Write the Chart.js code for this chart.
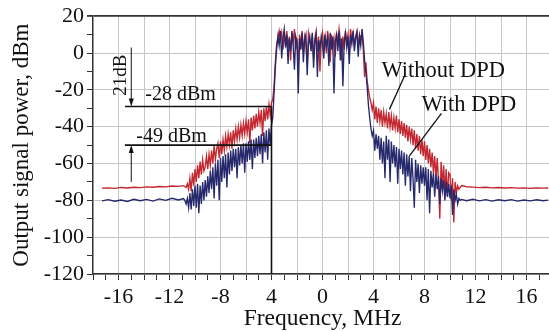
<!DOCTYPE html>
<html>
<head>
<meta charset="utf-8">
<script src="https://cdn.jsdelivr.net/npm/chart.js@4.4.0/dist/chart.umd.min.js"></script>
<style>
  html, body { margin: 0; padding: 0; background: #fff; overflow: hidden; }
  #wrap { width: 549px; height: 332px; overflow: hidden; }
  #probe { position: absolute; left: -999px; top: 0; font-family: 'Liberation Serif'; font-size: 20px; }
</style>
</head>
<body>
<span id="probe">Frequency 0123456789</span>
<div id="wrap"><canvas id="myChart" width="556" height="332"></canvas></div>
<script>
  /* DATA */

  const seriesNames = ['Without DPD', 'With DPD'];

  // flat noise floor, left and right of the spectrum (MHz)
  const flatLeftFreq = [-17.3, -16.8, -16.3, -15.8, -15.3, -14.8, -14.3, -13.8, -13.3, -12.8, -12.3, -11.8, -11.3, -10.9];
  const flatRightFreq = [10.9, 11.3, 11.8, 12.3, 12.8, 13.3, 13.8, 14.3, 14.8, 15.3, 15.8, 16.3, 16.8, 17.3, 17.7];

  // noisy part is sampled every 0.1 MHz from -10.8 to 10.8
  const noisyStart = -10.8;
  const noisyStep = 0.1;

  const redFlatLeft = [-73.4, -73.2, -73.5, -73.0, -73.3, -72.9, -73.1, -72.7, -72.9, -72.5, -72.7, -72.2, -72.4, -72.0];
  const redNoisy = [
    -72.5, -73, -71, -74,
    -68, -75, -65, -72, -63,
    -70, -61, -68, -59, -66, -58, -64, -62, -56, -63,
    -55, -61, -53, -60, -50, -58, -52, -49, -57, -48,
    -55, -47, -53, -45, -51, -44, -50, -43, -52, -42,
    -48, -41, -47, -40, -46, -39, -45, -38, -44, -37,
    -43, -36, -49, -35, -42, -34, -41, -33, -40, -32,
    -38, -31, -45, -30, -37, -29, -36, -28, -34, -27,
    -25, -18, -5, 5, 8, 12, 7, 11, 2, 10,
    5, 12, 3, 9, -4, 11, 6, 13, 2, 8,
    -8, 10, 4, 12, 0, 9, 5, -6, 11, 7,
    3, 10, -3, 8, 12, 1, 9, -10, 6, 11,
    4, 9, 0, 12, 6, -5, 10, 3, 8, -2,
    11, 5, 13, 7, -4, 9, 2, 12, 6, 10,
    -1, 13, 7, 11, 4, 9, 12, 3, 10,
    8, 11, 2, -13, -5, -15, -20, -24, -27, -31,
    -27, -36, -29, -38, -30, -37, -31, -40, -32, -38,
    -33, -41, -32, -40, -34, -42, -35, -41, -34, -43,
    -36, -44, -37, -45, -38, -46, -39, -48, -40, -47,
    -41, -50, -42, -52, -44, -53, -45, -55, -47, -56,
    -48, -58, -50, -60, -52, -62, -54, -65, -56, -68,
    -57, -70, -90, -59, -72, -61, -75, -63, -78, -65,
    -66, -80, -68, -92, -70, -76, -72, -74, -73
  ];
  const redFlatRight = [-72.0, -72.6, -72.8, -73.1, -72.9, -73.2, -73.0, -73.3, -73.1, -73.4, -73.2, -73.5, -73.3, -73.4, -73.3];

  const blueFlatLeft = [-80.3, -79.6, -80.5, -79.8, -80.6, -79.4, -80.2, -79.5, -80.4, -79.2, -80.0, -78.9, -79.8, -79.0];
  const blueNoisy = [
    -80, -82, -79, -84,
    -76, -85, -74, -83, -72,
    -84, -71, -87, -72, -82, -70, -80, -69, -78, -67,
    -76, -64, -74, -62, -79, -60, -72, -58, -80, -57,
    -70, -56, -68, -55, -73, -54, -66, -53, -64, -52,
    -62, -52, -68, -51, -61, -50, -60, -49, -65, -49,
    -59, -48, -58, -47, -63, -47, -57, -46, -56, -45,
    -55, -44, -60, -43, -54, -42, -58, -41, -50, -39,
    -35, -22, -8, 2, 9, 4, 12, -3, 8, 13,
    3, 10, -6, 8, 1, 12, 4, -9, 9, 6,
    -22, 8, 2, 11, -5, 7, 10, -12, 5, 9,
    1, 11, -8, 6, 10, -13, 7, 2, 9, 5,
    -3, 10, 4, 8, -7, 11, 2, 9, -22, 6,
    10, 1, 12, -4, 8, -18, 6, 11, 3, 9,
    -6, 10, 5, 12, 1, 8, 11, -2, 9,
    4, 13, 6, -4, -10, -18, -28, -35, -41, -45,
    -42, -53, -44, -52, -45, -58, -46, -60, -48, -68,
    -45, -58, -47, -70, -48, -60, -50, -62, -51, -71,
    -52, -63, -53, -66, -54, -72, -55, -67, -56, -75,
    -57, -68, -84, -58, -70, -60, -76, -61, -71, -62,
    -72, -62, -80, -63, -87, -64, -73, -65, -78, -66,
    -74, -67, -82, -68, -75, -69, -80, -70, -78, -71,
    -79, -72, -88, -74, -80, -77, -82, -79, -80
  ];
  const blueFlatRight = [-79.5, -80.2, -79.4, -80.3, -79.6, -80.4, -79.7, -80.2, -79.6, -80.4, -79.8, -80.3, -79.7, -80.2, -79.9];

  // tick labels (the -4 MHz tick reads "4" in the original)
  const xTickValues = [-16, -12, -8, -4, 0, 4, 8, 12, 16];
  const xTickLabels = ['-16', '-12', '-8', '4', '0', '4', '8', '12', '16'];
  const yTickValues = [20, 0, -20, -40, -60, -80, -100, -120];
  const yTickLabels = ['20', '0', '-20', '-40', '-60', '-80', '-100', '-120'];

  // ACPR marker lines
  const refLevels = [-29, -50];
  const refLabels = ['-28 dBm', '-49 dBm'];
  const edgeFreq = -4;

  const SERIF = "'Liberation Serif', 'DejaVu Serif', serif";
  const INK = '#111';

  /* HELPERS */

  function buildPoints(leftVals, noisyVals, rightVals) {
    const pts = [];
    leftVals.forEach((v, i) => pts.push({ x: flatLeftFreq[i], y: v }));
    noisyVals.forEach((v, i) => pts.push({ x: +(noisyStart + i * noisyStep).toFixed(2), y: v }));
    rightVals.forEach((v, i) => pts.push({ x: flatRightFreq[i], y: v }));
    return pts;
  }

  function line(ctx, x1, y1, x2, y2) {
    ctx.beginPath();
    ctx.moveTo(x1, y1);
    ctx.lineTo(x2, y2);
    ctx.stroke();
  }

  function arrowHead(ctx, x, y, dir) {
    // dir = 1 points down, -1 points up
    ctx.beginPath();
    ctx.moveTo(x, y);
    ctx.lineTo(x - 2.5, y - dir * 8);
    ctx.lineTo(x + 2.5, y - dir * 8);
    ctx.closePath();
    ctx.fill();
  }

  /* ANNOTATIONS */

  const annotations = {
    id: 'annotations',
    afterDatasetsDraw(chart) {
      const { ctx, scales: { x, y } } = chart;
      ctx.save();
      ctx.strokeStyle = INK;
      ctx.fillStyle = INK;
      ctx.lineWidth = 1.6;

      const xe = x.getPixelForValue(edgeFreq);
      const y28 = y.getPixelForValue(refLevels[0]);
      const y49 = y.getPixelForValue(refLevels[1]);

      // band edge marker and level lines
      line(ctx, xe, y.getPixelForValue(-120), xe, y28);
      line(ctx, x.getPixelForValue(-15.5), y28, xe, y28);
      line(ctx, x.getPixelForValue(-15.5), y49, xe, y49);

      // 21 dB arrows
      ctx.lineWidth = 1;
      const xa = x.getPixelForValue(-15.0);
      line(ctx, xa, y.getPixelForValue(3), xa, y28 - 6);
      arrowHead(ctx, xa, y28, 1);
      line(ctx, xa, y.getPixelForValue(-70), xa, y49 + 6);
      arrowHead(ctx, xa, y49, -1);

      // legend leader lines
      ctx.lineWidth = 1.3;
      line(ctx, x.getPixelForValue(6.43), y.getPixelForValue(-12.5), x.getPixelForValue(5.25), y.getPixelForValue(-30.6));
      line(ctx, x.getPixelForValue(9.33), y.getPixelForValue(-32.8), x.getPixelForValue(6.82), y.getPixelForValue(-55.9));

      // texts
      ctx.textBaseline = 'alphabetic';
      ctx.textAlign = 'left';
      ctx.font = '20px ' + SERIF;
      ctx.fillText(refLabels[0], x.getPixelForValue(-13.9), y28 - 6);
      ctx.fillText(refLabels[1], x.getPixelForValue(-14.6), y49 - 3);

      ctx.font = '22.5px ' + SERIF;
      ctx.fillText(seriesNames[0], x.getPixelForValue(4.63), y.getPixelForValue(-12.9));
      ctx.fillText(seriesNames[1], x.getPixelForValue(7.76), y.getPixelForValue(-31.7));

      ctx.save();
      ctx.translate(x.getPixelForValue(-16.0) + 7, y.getPixelForValue(-12.0));
      ctx.rotate(-Math.PI / 2);
      ctx.textAlign = 'center';
      ctx.font = '19px ' + SERIF;
      ctx.fillText('21dB', 0, 0);
      ctx.restore();

      ctx.restore();
    }
  };

  /* CHART */

  function initChart(canvas) {
    return new Chart(canvas, {
      type: 'line',
      data: {
        datasets: [{
          label: seriesNames[0],
          data: buildPoints(redFlatLeft, redNoisy, redFlatRight),
          borderColor: '#c3262f',
          borderWidth: 1.35,
          pointRadius: 0,
          order: 2
        }, {
          label: seriesNames[1],
          data: buildPoints(blueFlatLeft, blueNoisy, blueFlatRight),
          borderColor: '#26286c',
          borderWidth: 1.35,
          pointRadius: 0,
          order: 1
        }]
      },
      options: {
        responsive: false,
        animation: false,
        devicePixelRatio: 1,
        layout: { padding: { top: 2, right: 4, left: 0, bottom: 0 } },
        plugins: {
          legend: { display: false },
          tooltip: { enabled: false }
        },
        scales: {
          x: {
            type: 'linear',
            min: -18,
            max: 18,
            afterFit: (s) => { s.height = 58; },
            ticks: {
              stepSize: 1,
              autoSkip: false,
              maxRotation: 0,
              padding: 4,
              color: INK,
              font: { family: SERIF, size: 22 },
              callback: (v) => {
                const i = xTickValues.indexOf(v);
                return i >= 0 ? xTickLabels[i] : '';
              }
            },
            grid: {
              color: (c) => (c.tick && c.tick.value % 2 === 0 && Math.abs(c.tick.value) < 18) ? '#c6c6c6' : 'rgba(0,0,0,0)',
              tickColor: '#333',
              tickLength: 6
            },
            border: { color: '#333', width: 1.5 },
            title: {
              display: true,
              text: 'Frequency, MHz',
              color: INK,
              font: { family: SERIF, size: 23.5, lineHeight: 1 },
              padding: { top: 0, bottom: 1 }
            }
          },
          y: {
            min: -120,
            max: 20,
            afterFit: (s) => { s.width = 93; },
            ticks: {
              stepSize: 10,
              autoSkip: false,
              padding: 3,
              color: INK,
              font: { family: SERIF, size: 22 },
              callback: (v) => {
                const i = yTickValues.indexOf(v);
                return i >= 0 ? yTickLabels[i] : '';
              }
            },
            grid: {
              color: (c) => {
                if (!c.tick) return 'rgba(0,0,0,0)';
                if (c.tick.value === 20) return '#333';
                return c.tick.value % 20 === 0 ? '#c6c6c6' : 'rgba(0,0,0,0)';
              },
              lineWidth: (c) => (c.tick && c.tick.value === 20) ? 1.8 : 1,
              tickColor: '#333',
              tickLength: 6
            },
            border: { color: '#333', width: 1.5 },
            title: {
              display: true,
              text: 'Output signal power, dBm',
              color: INK,
              font: { family: SERIF, size: 23, lineHeight: 1 },
              padding: { top: 10, bottom: 0 }
            }
          }
        }
      },
      plugins: [annotations]
    });
  }

  document.addEventListener('DOMContentLoaded', async () => {
    try { await document.fonts.load("20px 'Liberation Serif'"); } catch (e) { console.log(e); }
    initChart(document.querySelector('#myChart'));
  });
</script>
</body>
</html>
